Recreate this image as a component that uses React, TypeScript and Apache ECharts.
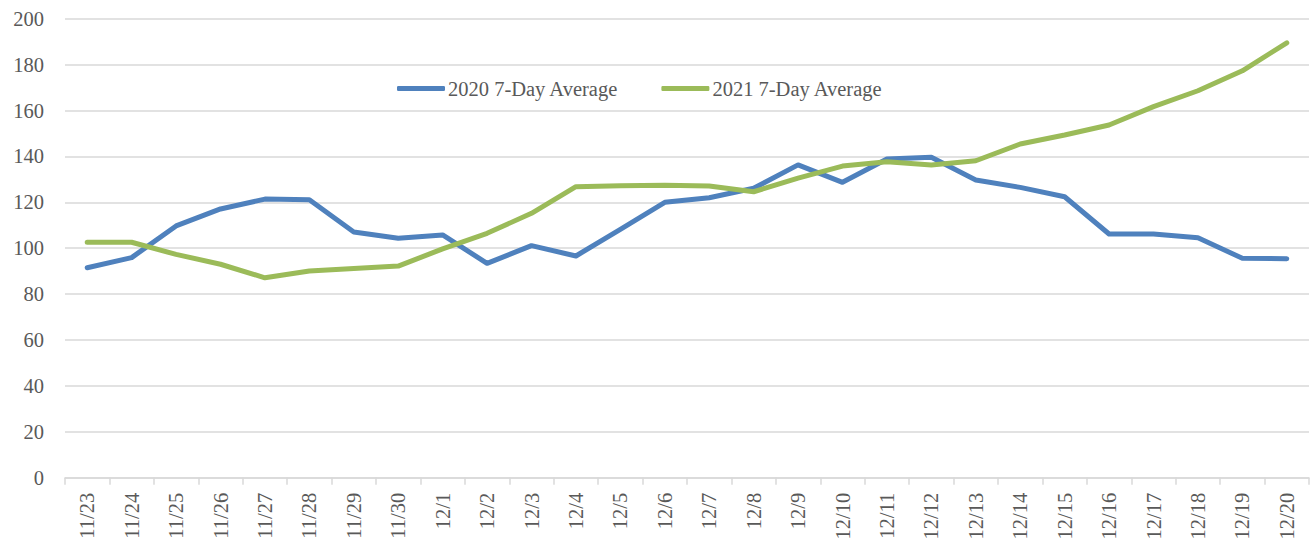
import React, { useEffect, useRef } from "react";
import * as echarts from "echarts";

const categories = [
  "11/23", "11/24", "11/25", "11/26", "11/27", "11/28", "11/29", "11/30",
  "12/1", "12/2", "12/3", "12/4", "12/5", "12/6", "12/7", "12/8", "12/9",
  "12/10", "12/11", "12/12", "12/13", "12/14", "12/15", "12/16", "12/17",
  "12/18", "12/19", "12/20",
];

const avg2020 = [
  91.5, 95.9, 109.7, 117.1, 121.4, 121.1, 107.1, 104.3, 105.8, 93.4, 101.1,
  96.6, 108.2, 120.0, 122.0, 126.1, 136.3, 128.7, 138.9, 139.6, 129.7, 126.5,
  122.4, 106.2, 106.2, 104.6, 95.6, 95.4,
];

const avg2021 = [
  102.6, 102.6, 97.3, 93.0, 87.1, 90.1, 91.2, 92.2, 99.7, 106.5, 115.2, 126.8,
  127.2, 127.4, 127.1, 124.6, 130.5, 135.8, 137.7, 136.3, 138.1, 145.4, 149.3,
  153.7, 161.7, 168.6, 177.3, 189.5,
];

const seriesNames = ["2020 7-Day Average", "2021 7-Day Average"];
const seriesColors = ["#4f81bd", "#9bbb59"];

const FONT = "'Liberation Serif', 'Times New Roman', serif";
const TEXT = "#595959";
const GRID = "#d9d9d9";

export default function App() {
  const ref = useRef<HTMLDivElement>(null);
  useEffect(() => {
    if (!ref.current) return;
    const chart = echarts.init(ref.current, undefined, { renderer: "svg" });
    chart.setOption({
      animation: false,
      backgroundColor: "#ffffff",
      textStyle: { fontFamily: FONT },
      grid: { left: 65, right: 1, top: 18.7, bottom: 66.3, containLabel: false },
      legend: {
        left: 392,
        top: 73,
        itemGap: 43,
        itemWidth: 48,
        itemHeight: 5,
        icon: "roundRect",
        textStyle: { fontFamily: FONT, fontSize: 20.5, color: TEXT, padding: [0, 0, 0, -2] },
        data: seriesNames,
      },
      xAxis: {
        type: "category",
        data: categories,
        boundaryGap: true,
        axisLine: { show: true, lineStyle: { color: GRID, width: 1.5 } },
        axisTick: { show: true, length: 7, lineStyle: { color: GRID, width: 1.5 } },
        axisLabel: {
          rotate: 90,
          margin: 15,
          interval: 0,
          fontFamily: FONT,
          fontSize: 20.5,
          color: TEXT,
        },
        splitLine: { show: false },
      },
      yAxis: {
        type: "value",
        min: 0,
        max: 200,
        interval: 20,
        axisLine: { show: false },
        axisTick: { show: false },
        axisLabel: { margin: 21, fontFamily: FONT, fontSize: 20.5, color: TEXT },
        splitLine: { show: true, lineStyle: { color: GRID, width: 1.5 } },
      },
      series: [
        {
          name: seriesNames[0],
          type: "line",
          data: avg2020,
          symbol: "none",
          color: seriesColors[0],
          lineStyle: { width: 5, color: seriesColors[0], cap: "round", join: "round" },
        },
        {
          name: seriesNames[1],
          type: "line",
          data: avg2021,
          symbol: "none",
          color: seriesColors[1],
          lineStyle: { width: 5, color: seriesColors[1], cap: "round", join: "round" },
        },
      ],
    });
    return () => chart.dispose();
  }, []);
  return (
    <div
      ref={ref}
      style={{ position: "fixed", left: 0, top: 0, width: 1310, height: 544 }}
    />
  );
}
